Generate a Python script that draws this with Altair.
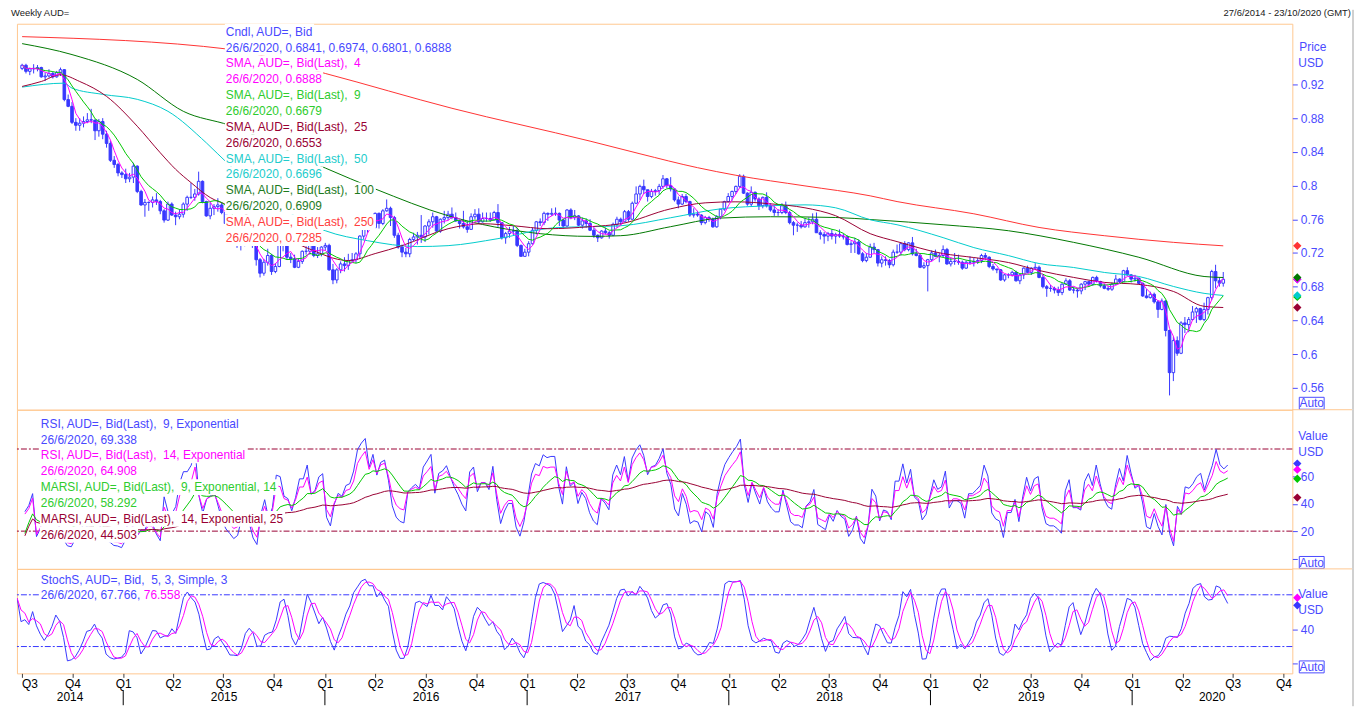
import altair as alt
import pandas as pd
import numpy as np

# ---------------- values ----------------
FIRST_WEEK = "2014-06-23"      # plotted position of the first weekly candle (27/6/2014)
first_open = 0.9390

close = [
    0.9427, 0.9355, 0.9385, 0.9390, 0.9400, 0.9290, 0.9300, 0.9330, 0.9290, 0.9340,
    0.9375, 0.9020, 0.8940, 0.8750, 0.8715, 0.8740, 0.8760, 0.8780, 0.8777, 0.8650,
    0.8760, 0.8610, 0.8500, 0.8300, 0.8250, 0.8150, 0.8130, 0.8080, 0.8100, 0.8230,
    0.7930, 0.7770, 0.7800, 0.7800, 0.7830, 0.7810, 0.7700, 0.7590, 0.7780, 0.7650,
    0.7630, 0.7660, 0.7780, 0.7860, 0.7860, 0.7900, 0.8050, 0.7810, 0.7640, 0.7730,
    0.7750, 0.7770, 0.7680, 0.7550, 0.7450, 0.7380, 0.7290, 0.7300, 0.7350, 0.7370,
    0.7300, 0.7120, 0.6960, 0.7090, 0.7170, 0.6980, 0.7040, 0.7300, 0.7290, 0.7150,
    0.7130, 0.7030, 0.7100, 0.7220, 0.7220, 0.7320, 0.7170, 0.7190, 0.7270, 0.7290,
    0.7000, 0.6880, 0.7000, 0.7070, 0.7050, 0.7110, 0.7120, 0.7190, 0.7400, 0.7520,
    0.7630, 0.7500, 0.7670, 0.7550, 0.7700, 0.7730, 0.7620, 0.7410, 0.7270, 0.7210,
    0.7190, 0.7360, 0.7390, 0.7410, 0.7390, 0.7520, 0.7570, 0.7630, 0.7460, 0.7600,
    0.7620, 0.7660, 0.7620, 0.7580, 0.7550, 0.7510, 0.7480, 0.7630, 0.7660, 0.7570,
    0.7610, 0.7610, 0.7590, 0.7680, 0.7560, 0.7380, 0.7430, 0.7460, 0.7460, 0.7290,
    0.7160, 0.7210, 0.7310, 0.7470, 0.7570, 0.7560, 0.7670, 0.7660, 0.7670, 0.7670,
    0.7590, 0.7520, 0.7710, 0.7620, 0.7640, 0.7530, 0.7580, 0.7550, 0.7470, 0.7410,
    0.7380, 0.7460, 0.7440, 0.7410, 0.7540, 0.7600, 0.7570, 0.7690, 0.7600, 0.7790,
    0.7900, 0.7990, 0.7950, 0.7870, 0.7930, 0.7940, 0.7990, 0.8080, 0.8000, 0.7960,
    0.7830, 0.7780, 0.7870, 0.7810, 0.7650, 0.7660, 0.7650, 0.7560, 0.7620, 0.7600,
    0.7510, 0.7630, 0.7720, 0.7810, 0.7870, 0.7930, 0.7990, 0.8110, 0.7910, 0.7780,
    0.7920, 0.7840, 0.7760, 0.7860, 0.7760, 0.7710, 0.7680, 0.7680, 0.7760, 0.7680,
    0.7560, 0.7530, 0.7530, 0.7510, 0.7560, 0.7570, 0.7600, 0.7440, 0.7420, 0.7400,
    0.7430, 0.7400, 0.7420, 0.7400, 0.7390, 0.7300, 0.7310, 0.7330, 0.7190, 0.7110,
    0.7150, 0.7270, 0.7240, 0.7080, 0.7120, 0.7110, 0.7060, 0.7210, 0.7210, 0.7310,
    0.7240, 0.7320, 0.7190, 0.7170, 0.7030, 0.7050, 0.7120, 0.7200, 0.7160, 0.7170,
    0.7240, 0.7070, 0.7100, 0.7100, 0.7090, 0.7020, 0.7090, 0.7090, 0.7100, 0.7110,
    0.7170, 0.7150, 0.7040, 0.7010, 0.7000, 0.6880, 0.6940, 0.6940, 0.6970, 0.6870,
    0.6940, 0.7020, 0.6970, 0.7020, 0.7030, 0.6910, 0.6800, 0.6780, 0.6780, 0.6760,
    0.6730, 0.6830, 0.6870, 0.6760, 0.6760, 0.6750, 0.6830, 0.6860, 0.6830, 0.6910,
    0.6860, 0.6810, 0.6780, 0.6770, 0.6830, 0.6890, 0.6860, 0.6990, 0.6940, 0.6890,
    0.6900, 0.6840, 0.6690, 0.6670, 0.6710, 0.6620, 0.6530, 0.6630, 0.6280, 0.5780,
    0.6160, 0.6010, 0.6370, 0.6350, 0.6410, 0.6500, 0.6540, 0.6410, 0.6530, 0.6670,
    0.6980, 0.6870, 0.6841, 0.6888,
]
high = [
    0.9445, 0.9445, 0.9400, 0.9440, 0.9430, 0.9410, 0.9340, 0.9380, 0.9350, 0.9360,
    0.9400, 0.9380, 0.9080, 0.8990, 0.8800, 0.8800, 0.8820, 0.8860, 0.8910, 0.8780,
    0.8790, 0.8800, 0.8650, 0.8530, 0.8350, 0.8270, 0.8170, 0.8200, 0.8150, 0.8270,
    0.8240, 0.7950, 0.7840, 0.7810, 0.7870, 0.7910, 0.7830, 0.7720, 0.7810, 0.7800,
    0.7690, 0.7720, 0.7800, 0.7880, 0.8030, 0.7960, 0.8165, 0.8060, 0.7820, 0.7800,
    0.7780, 0.7850, 0.7800, 0.7700, 0.7580, 0.7480, 0.7400, 0.7370, 0.7440, 0.7430,
    0.7380, 0.7320, 0.7140, 0.7130, 0.7250, 0.7190, 0.7080, 0.7310, 0.7380, 0.7300,
    0.7200, 0.7180, 0.7140, 0.7230, 0.7280, 0.7340, 0.7370, 0.7270, 0.7280, 0.7320,
    0.7310, 0.7070, 0.7020, 0.7100, 0.7150, 0.7190, 0.7200, 0.7210, 0.7410, 0.7530,
    0.7640, 0.7640, 0.7680, 0.7680, 0.7720, 0.7835, 0.7750, 0.7640, 0.7440, 0.7300,
    0.7260, 0.7380, 0.7440, 0.7450, 0.7650, 0.7530, 0.7600, 0.7680, 0.7640, 0.7610,
    0.7700, 0.7700, 0.7740, 0.7680, 0.7590, 0.7700, 0.7580, 0.7670, 0.7720, 0.7730,
    0.7680, 0.7680, 0.7680, 0.7700, 0.7780, 0.7560, 0.7450, 0.7510, 0.7520, 0.7500,
    0.7300, 0.7250, 0.7340, 0.7500, 0.7580, 0.7610, 0.7690, 0.7680, 0.7730, 0.7740,
    0.7680, 0.7610, 0.7720, 0.7730, 0.7710, 0.7650, 0.7620, 0.7610, 0.7600, 0.7500,
    0.7420, 0.7470, 0.7500, 0.7460, 0.7560, 0.7630, 0.7620, 0.7710, 0.7710, 0.7810,
    0.7990, 0.8010, 0.8070, 0.7950, 0.7960, 0.7960, 0.8020, 0.8125, 0.8090, 0.8100,
    0.7970, 0.7870, 0.7900, 0.7900, 0.7820, 0.7730, 0.7700, 0.7660, 0.7640, 0.7640,
    0.7620, 0.7650, 0.7720, 0.7820, 0.7910, 0.7940, 0.8000, 0.8135, 0.8130, 0.7920,
    0.7990, 0.7930, 0.7860, 0.7870, 0.7920, 0.7790, 0.7760, 0.7720, 0.7790, 0.7810,
    0.7700, 0.7580, 0.7560, 0.7580, 0.7610, 0.7620, 0.7670, 0.7680, 0.7470, 0.7450,
    0.7450, 0.7480, 0.7440, 0.7480, 0.7430, 0.7410, 0.7340, 0.7380, 0.7360, 0.7210,
    0.7200, 0.7310, 0.7320, 0.7240, 0.7160, 0.7160, 0.7130, 0.7240, 0.7300, 0.7320,
    0.7340, 0.7330, 0.7390, 0.7250, 0.7200, 0.7090, 0.7130, 0.7230, 0.7240, 0.7200,
    0.7290, 0.7260, 0.7140, 0.7200, 0.7180, 0.7110, 0.7110, 0.7160, 0.7140, 0.7140,
    0.7190, 0.7200, 0.7160, 0.7070, 0.7010, 0.7010, 0.6950, 0.6960, 0.6990, 0.6990,
    0.6950, 0.7030, 0.7050, 0.7030, 0.7080, 0.7050, 0.6950, 0.6820, 0.6820, 0.6800,
    0.6800, 0.6840, 0.6900, 0.6890, 0.6800, 0.6780, 0.6840, 0.6870, 0.6870, 0.6920,
    0.6930, 0.6870, 0.6830, 0.6810, 0.6850, 0.6940, 0.6900, 0.7000, 0.7030, 0.6950,
    0.6940, 0.6910, 0.6850, 0.6770, 0.6740, 0.6730, 0.6640, 0.6660, 0.6640, 0.6290,
    0.6210, 0.6210, 0.6390, 0.6440, 0.6440, 0.6570, 0.6560, 0.6550, 0.6610, 0.6680,
    0.7000, 0.7060, 0.6910, 0.6974,
]
low = [
    0.9370, 0.9330, 0.9310, 0.9330, 0.9355, 0.9280, 0.9240, 0.9280, 0.9270, 0.9280,
    0.9300, 0.9000, 0.8930, 0.8730, 0.8650, 0.8650, 0.8690, 0.8740, 0.8740, 0.8540,
    0.8580, 0.8550, 0.8450, 0.8280, 0.8210, 0.8110, 0.8090, 0.8030, 0.8040, 0.8030,
    0.7910, 0.7760, 0.7630, 0.7700, 0.7740, 0.7770, 0.7660, 0.7560, 0.7580, 0.7640,
    0.7530, 0.7600, 0.7620, 0.7700, 0.7840, 0.7820, 0.7880, 0.7790, 0.7630, 0.7600,
    0.7650, 0.7690, 0.7660, 0.7530, 0.7370, 0.7340, 0.7260, 0.7230, 0.7280, 0.7310,
    0.7260, 0.7050, 0.6910, 0.6930, 0.7050, 0.6940, 0.6960, 0.7030, 0.7220, 0.7120,
    0.7080, 0.7020, 0.7020, 0.7070, 0.7180, 0.7180, 0.7150, 0.7140, 0.7160, 0.7230,
    0.6990, 0.6830, 0.6840, 0.6960, 0.6980, 0.7000, 0.7080, 0.7080, 0.7130, 0.7360,
    0.7440, 0.7490, 0.7490, 0.7490, 0.7530, 0.7690, 0.7520, 0.7380, 0.7250, 0.7150,
    0.7150, 0.7150, 0.7340, 0.7300, 0.7320, 0.7330, 0.7420, 0.7500, 0.7450, 0.7440,
    0.7550, 0.7590, 0.7600, 0.7570, 0.7490, 0.7490, 0.7440, 0.7480, 0.7600, 0.7550,
    0.7560, 0.7570, 0.7570, 0.7590, 0.7510, 0.7360, 0.7310, 0.7380, 0.7410, 0.7270,
    0.7160, 0.7160, 0.7160, 0.7300, 0.7420, 0.7520, 0.7530, 0.7580, 0.7640, 0.7640,
    0.7520, 0.7490, 0.7510, 0.7600, 0.7590, 0.7520, 0.7490, 0.7500, 0.7460, 0.7380,
    0.7330, 0.7370, 0.7420, 0.7370, 0.7400, 0.7500, 0.7530, 0.7570, 0.7570, 0.7600,
    0.7780, 0.7830, 0.7900, 0.7810, 0.7850, 0.7880, 0.7890, 0.7960, 0.7970, 0.7930,
    0.7810, 0.7730, 0.7770, 0.7790, 0.7630, 0.7620, 0.7630, 0.7530, 0.7540, 0.7570,
    0.7500, 0.7500, 0.7600, 0.7700, 0.7800, 0.7820, 0.7900, 0.7970, 0.7900, 0.7760,
    0.7750, 0.7810, 0.7710, 0.7730, 0.7740, 0.7690, 0.7640, 0.7640, 0.7660, 0.7660,
    0.7540, 0.7410, 0.7450, 0.7490, 0.7500, 0.7500, 0.7540, 0.7440, 0.7360, 0.7310,
    0.7340, 0.7360, 0.7310, 0.7380, 0.7360, 0.7290, 0.7200, 0.7200, 0.7180, 0.7090,
    0.7090, 0.7140, 0.7200, 0.7040, 0.7030, 0.7050, 0.7020, 0.7040, 0.7190, 0.7170,
    0.7220, 0.7220, 0.7170, 0.7160, 0.7020, 0.7010, 0.6744, 0.7100, 0.7150, 0.7090,
    0.7150, 0.7060, 0.7040, 0.7060, 0.7060, 0.7000, 0.7010, 0.7060, 0.7040, 0.7070,
    0.7080, 0.7120, 0.7020, 0.6990, 0.6960, 0.6870, 0.6860, 0.6900, 0.6920, 0.6860,
    0.6830, 0.6890, 0.6960, 0.6940, 0.7000, 0.6900, 0.6780, 0.6680, 0.6740, 0.6720,
    0.6690, 0.6700, 0.6820, 0.6750, 0.6720, 0.6670, 0.6710, 0.6760, 0.6800, 0.6810,
    0.6850, 0.6790, 0.6770, 0.6750, 0.6750, 0.6820, 0.6840, 0.6860, 0.6930, 0.6850,
    0.6860, 0.6830, 0.6680, 0.6660, 0.6660, 0.6600, 0.6430, 0.6520, 0.6210, 0.5510,
    0.5680, 0.5980, 0.6000, 0.6250, 0.6260, 0.6400, 0.6370, 0.6400, 0.6390, 0.6470,
    0.6640, 0.6780, 0.6800, 0.6801,
]

# longer moving averages (week index, value)
sma25_wk = [0, 5, 10, 15, 22, 30, 36, 40, 44, 49, 54, 74, 85, 92, 99, 111, 120, 128, 137, 148,
            156, 169, 178, 186, 195, 204, 212, 221, 228, 240, 248, 257, 265, 274, 282, 291, 300, 308, 313]
sma25_val = [0.9176, 0.9235, 0.9315, 0.9235, 0.9058, 0.8704, 0.8389, 0.8193, 0.8035, 0.7858,
             0.7760, 0.7264, 0.7110, 0.7193, 0.7287, 0.7488, 0.7547, 0.7523, 0.7488, 0.7512,
             0.7547, 0.7724, 0.7795, 0.7807, 0.7783, 0.7736, 0.7642, 0.7429, 0.7335, 0.7193,
             0.7146, 0.7087, 0.6992, 0.6910, 0.6851, 0.6827, 0.6744, 0.6567, 0.6553]
sma50_wk = [0, 11, 13, 21, 30, 38, 48, 54, 79, 90, 103, 111, 124, 139, 156, 169, 182, 195, 204, 212,
            221, 228, 240, 248, 257, 265, 274, 282, 291, 300, 308, 313]
sma50_val = [0.9168, 0.9215, 0.9156, 0.9082, 0.9023, 0.8881, 0.8507, 0.8244, 0.7464, 0.7346,
             0.7276, 0.7287, 0.7370, 0.7500, 0.7523, 0.7618, 0.7724, 0.7760, 0.7771, 0.7736,
             0.7594, 0.7535, 0.7382, 0.7264, 0.7169, 0.7075, 0.7028, 0.6969, 0.6921, 0.6803,
             0.6721, 0.6696]
sma100_wk = [0, 13, 30, 42, 54, 79, 92, 111, 135, 148, 156, 169, 182, 195, 212, 222, 240, 257, 274, 291, 308, 313]
sma100_val = [0.9684, 0.9554, 0.9259, 0.8881, 0.8716, 0.8208, 0.7960, 0.7642, 0.7429, 0.7397, 0.7405,
              0.7512, 0.7614, 0.7630, 0.7621, 0.7594, 0.7535, 0.7464, 0.7326, 0.7149, 0.6921, 0.6909]
sma250_wk = [0, 54, 79, 112, 148, 161, 176, 186, 204, 221, 228, 248, 265, 282, 300, 313]
sma250_val = [0.9767, 0.9617, 0.9330, 0.8917, 0.8527, 0.8377, 0.8212, 0.8122, 0.7996, 0.7878,
              0.7810, 0.7665, 0.7503, 0.7405, 0.7326, 0.7285]

# legend values
last_date = "26/6/2020"
cndl_ohlc = ["0.6841", "0.6974", "0.6801", "0.6888"]
sma_periods = [4, 9, 25, 50, 100, 250]
sma_last = ["0.6888", "0.6679", "0.6553", "0.6696", "0.6909", "0.7285"]
rsi_last = ["69.338", "64.908", "58.292", "44.503"]
stoch_last = ["67.766", "76.558"]
price_ticks = [0.56, 0.6, 0.64, 0.68, 0.72, 0.76, 0.8, 0.84, 0.88, 0.92]
rsi_ticks = [0, 20, 40, 60]
stoch_ticks = [0, 40]
rsi_levels = [80, 20]
stoch_levels = [80, 20]

# ---------------- styles ----------------
FONT = "Liberation Sans"
CANDLE = "#3838FF"
TBLUE = "#4848FF"
AXB = "#4B4BFF"
MAG = "#FF00FF"
GREEN = "#00C800"
TGREEN = "#2ECC2E"
MAROON = "#990033"
CYAN = "#00CCCC"
TCYAN = "#22CCCC"
DKGREEN = "#007800"
TDKGREEN = "#1E7B1E"
RED = "#FF3333"
TRED = "#FF4040"
BORDER = "#FFC890"

W = 1282
H1, H2, H3 = 388, 160, 105
X0, X1 = -0.05, 329.7
xsc = alt.Scale(domain=[X0, X1], nice=False, zero=False)
ysc1 = alt.Scale(domain=[0.534, 0.992], nice=False, zero=False)
ysc2 = alt.Scale(domain=[-7.6, 108.7], nice=False, zero=False)
ysc3 = alt.Scale(domain=[-11.1, 110.0], nice=False, zero=False)
XN = alt.X("i:Q", scale=xsc, axis=None)


def XQ(field, axis=None, with_axis=False):
    if with_axis:
        return alt.X(field, scale=xsc, axis=axis, title=None)
    return alt.X(field, scale=xsc, title=None)


def YQ(field, ysc, axis=None):
    if axis is not None:
        return alt.Y(field, scale=ysc, axis=axis, title=None)
    return alt.Y(field, scale=ysc, title=None)


# ---------------- derived table ----------------
n = len(close)
df = pd.DataFrame({"i": np.arange(n), "close": close, "high": high, "low": low})
df["open"] = [first_open] + close[:-1]
s = df["close"]
df["sma4"] = s.rolling(4, min_periods=1).mean()
df["sma9"] = s.rolling(9, min_periods=1).mean()
d = s.diff()


def rsi(period):
    up = d.clip(lower=0)
    dn = (-d).clip(lower=0)
    au = up.ewm(span=period, adjust=True).mean()
    ad = dn.ewm(span=period, adjust=True).mean()
    return 100 * au / (au + ad)


df["rsi9"] = rsi(9)
df["rsi14"] = rsi(14)
df["marsi9"] = df["rsi9"].ewm(span=14, adjust=True).mean()
df["marsi14"] = df["rsi14"].ewm(alpha=1.0 / 25, adjust=True).mean()
ll = df["low"].rolling(5, min_periods=1).min()
hh = df["high"].rolling(5, min_periods=1).max()
raw = 100 * (s - ll) / (hh - ll)
df["stk"] = raw.rolling(3, min_periods=1).mean()
df["std"] = df["stk"].rolling(3, min_periods=1).mean()
dfi = df.iloc[2:].copy()

base = pd.Timestamp(FIRST_WEEK)


def wk(dd):
    return (pd.Timestamp(dd) - base).days / 7.0


q_dates = pd.date_range("2014-07-01", "2020-10-01", freq="QS")
q_pos = [round(wk(dd), 4) for dd in q_dates]
q_expr = "'Q' + quarter(time(datetime(2014, 5, 23)) + datum.value * 604800000 + 43200000)"
yr_sep = pd.DataFrame({"p": [wk(f"{y}-01-01") for y in range(2015, 2021)]})
yl = []
for y in range(2014, 2021):
    a = max(wk(f"{y}-01-01"), X0)
    b = min(wk(f"{y + 1}-01-01"), X1)
    yl.append({"p": (a + b) / 2, "y": str(y)})
yr_lab = pd.DataFrame(yl)

ONE = pd.DataFrame({"k": [0]})

# Arial advance widths (per 1000 em) to size the white boxes behind legend lines
_AW = {" ": 278, ",": 278, ".": 278, "/": 278, "(": 333, ")": 333, "=": 584, "-": 333,
       "A": 667, "B": 667, "C": 722, "D": 722, "E": 667, "I": 278, "L": 556, "M": 833, "R": 722,
       "S": 667, "U": 722, "G": 778, "T": 611, "V": 667, "W": 944,
       "a": 556, "c": 500, "d": 556, "e": 556, "h": 556, "i": 222, "l": 222, "m": 833, "n": 556,
       "o": 556, "p": 556, "r": 333, "s": 500, "t": 278, "x": 500, "u": 556, "k": 500, "y": 500,
       "\u00a0": 278}


def text_w(s_, size=12):
    return sum(_AW.get(ch, 556) for ch in s_) * size / 1000.0


def txt(s_, x, y, color, size=12, align="left", box=True):
    out = []
    if box:
        w = text_w(s_, size)
        out.append(alt.Chart(ONE).mark_rect(fill="white").encode(
            x=alt.value(x - 1), x2=alt.value(x + w + 1), y=alt.value(y - 8), y2=alt.value(y + 8)))
    out.append(alt.Chart(ONE).mark_text(text=s_, align=align, baseline="middle", font=FONT,
                                        fontSize=size, fill=color)
               .encode(x=alt.value(x), y=alt.value(y)))
    return out


def line(data, field, color, ysc, interp="linear"):
    return alt.Chart(data).mark_line(color=color, strokeWidth=1, clip=True, interpolate=interp).encode(
        x=XN, y=YQ(field + ":Q", ysc))


def line_q(data, field, color, ysc, xaxis=None):
    return alt.Chart(data).mark_line(color=color, strokeWidth=1, clip=True).encode(
        x=XQ("i:Q", xaxis, with_axis=xaxis is not None), y=YQ(field + ":Q", ysc))


def sparse(wks, vals, color):
    return line(pd.DataFrame({"i": wks, "v": vals}), "v", color, ysc1, "monotone")


def diamonds(vals, colors, ysc):
    dd = pd.DataFrame({"v": [float(v) for v in vals], "c": colors})
    return alt.Chart(dd).mark_point(shape="diamond", filled=True, size=70, opacity=1).encode(
        x=alt.value(W + 5), y=YQ("v:Q", ysc), color=alt.Color("c:N", scale=None))


def auto_box(h):
    return [
        alt.Chart(ONE).mark_rect(fill="white", stroke=AXB, strokeWidth=1).encode(
            x=alt.value(W + 7), x2=alt.value(W + 32), y=alt.value(h - 12.5), y2=alt.value(h - 0.5)),
        alt.Chart(ONE).mark_text(text="Auto", align="center", baseline="middle", font=FONT,
                                 fontSize=12, fill=AXB).encode(x=alt.value(W + 19.5), y=alt.value(h - 6.3)),
    ]


def frame(h, y0=0, extra=0):
    return [alt.Chart(ONE).mark_rule(color="#A0A0A0", strokeWidth=1).encode(
        x=alt.value(W + 61), y=alt.value(y0), y2=alt.value(h + extra))]


def sep(h):
    return alt.Chart(ONE).mark_rule(color=BORDER, strokeWidth=1).encode(
        x=alt.value(W), x2=alt.value(W + 60), y=alt.value(h))


def yaxis(values, expr=None, fmt=None):
    kw = dict(orient="right", values=values, title=None, domain=False, grid=False,
              tickColor=AXB, tickSize=5, labelColor=AXB, labelFont=FONT, labelFontSize=12,
              labelPadding=3)
    if expr:
        kw["labelExpr"] = expr
    if fmt:
        kw["format"] = fmt
    return alt.Axis(**kw)


# ---------------- price panel ----------------
wick = alt.Chart(df).mark_rule(color=CANDLE, strokeWidth=1, clip=True).encode(
    x=XN, y=YQ("low:Q", ysc1, yaxis(price_ticks, fmt="~g")), y2="high:Q")
body = alt.Chart(df).mark_bar(size=2.6, stroke=CANDLE, strokeWidth=1, clip=True).encode(
    x=XN, y=YQ("open:Q", ysc1), y2="close:Q",
    fill=alt.condition("datum.close < datum.open", alt.value(CANDLE), alt.value("white")))

p_layers = [wick, body,
            sparse(sma250_wk, sma250_val, RED),
            sparse(sma100_wk, sma100_val, DKGREEN),
            sparse(sma50_wk, sma50_val, CYAN),
            sparse(sma25_wk, sma25_val, MAROON),
            line(df, "sma9", GREEN, ysc1),
            line(df, "sma4", MAG, ysc1)]

sma_txt_cols = [MAG, TGREEN, MAROON, TCYAN, TDKGREEN, TRED]
p_lines = [("Cndl, AUD=, Bid", TBLUE),
           (f"{last_date}, " + ", ".join(cndl_ohlc), TBLUE)]
for per, val, col in zip(sma_periods, sma_last, sma_txt_cols):
    p_lines.append((f"SMA, AUD=, Bid(Last),\u00a0 {per}", col))
    p_lines.append((f"{last_date}, {val}", col))
for k, (t, c) in enumerate(p_lines):
    p_layers += txt(t, 210, 8 + 15.95 * k, c)

p_layers += txt("Weekly AUD=", -6, -10.5, "#202020", size=9.5, box=False)
p_layers += txt("27/6/2014 - 23/10/2020 (GMT)", W + 59, -10.5, "#202020", size=9.5, align="right", box=False)
p_layers += txt("Price", W + 7, 23, AXB, box=False)
p_layers += txt("USD", W + 6, 39, AXB, box=False)
p_layers += auto_box(H1)
p_layers.append(diamonds([cndl_ohlc[3]] + sma_last,
                         [CANDLE, MAG, GREEN, MAROON, CYAN, DKGREEN, RED], ysc1))
p_layers.append(sep(H1))
p_layers += frame(H1, y0=-14)
price = alt.layer(*p_layers).properties(width=W, height=H1)

# ---------------- RSI panel ----------------
lev2 = alt.Chart(pd.DataFrame({"v": rsi_levels})).mark_rule(
    color=MAROON, strokeWidth=1, strokeDash=[6, 2, 2, 2]).encode(
    y=YQ("v:Q", ysc2, yaxis(rsi_ticks, expr="datum.value == 0 ? '' : datum.label")))
r_layers = [lev2,
            line(dfi, "rsi9", CANDLE, ysc2),
            line(dfi, "rsi14", MAG, ysc2),
            line(dfi, "marsi9", GREEN, ysc2),
            line(dfi, "marsi14", MAROON, ysc2)]
r_lines = [("RSI, AUD=, Bid(Last),\u00a0 9, Exponential", TBLUE),
           (f"{last_date}, {rsi_last[0]}", TBLUE),
           ("RSI, AUD=, Bid(Last),\u00a0 14, Exponential", MAG),
           (f"{last_date}, {rsi_last[1]}", MAG),
           ("MARSI, AUD=, Bid(Last),\u00a0 9, Exponential, 14", TGREEN),
           (f"{last_date}, {rsi_last[2]}", TGREEN),
           ("MARSI, AUD=, Bid(Last),\u00a0 14, Exponential, 25", MAROON),
           (f"{last_date}, {rsi_last[3]}", MAROON)]
for k, (t, c) in enumerate(r_lines):
    r_layers += txt(t, 24, 14 + 15.95 * k, c)
r_layers += txt("Value", W + 6, 26.7, AXB, box=False)
r_layers += txt("USD", W + 6, 42.7, AXB, box=False)
r_layers += auto_box(H2)
r_layers.append(diamonds(rsi_last, [CANDLE, MAG, GREEN, MAROON], ysc2))
r_layers.append(sep(H2))
r_layers += frame(H2)
rsi_panel = alt.layer(*r_layers).properties(width=W, height=H2)

# ---------------- Stochastic panel ----------------
ax_x = alt.Axis(values=q_pos, labelExpr=q_expr, title=None, domain=False, grid=False,
                tickColor="#404040", tickSize=4, labelColor="#000000", labelFont=FONT,
                labelFontSize=12, labelPadding=1, labelFlush=6)
lev3 = alt.Chart(pd.DataFrame({"v": stoch_levels})).mark_rule(
    color=CANDLE, strokeWidth=1, strokeDash=[6, 2, 2, 2]).encode(
    y=YQ("v:Q", ysc3, yaxis(stoch_ticks, expr="datum.value == 0 ? '' : datum.label")))
s_layers = [lev3,
            line_q(df, "stk", CANDLE, ysc3, xaxis=ax_x),
            line_q(df, "std", MAG, ysc3)]
s_layers += txt("StochS, AUD=, Bid,\u00a0 5, 3, Simple, 3", 24, 10.7, TBLUE)
s_layers += txt(f"{last_date}, {stoch_last[0]}, ", 24, 26.7, TBLUE)
s_layers += txt(stoch_last[1], 127.5, 26.7, MAG)
s_layers += txt("Value", W + 6, 25, AXB)
s_layers += txt("USD", W + 6, 41, AXB)
s_layers += auto_box(H3)
s_layers.append(diamonds([stoch_last[1], stoch_last[0]], [MAG, CANDLE], ysc3))
s_layers.append(alt.Chart(yr_sep).mark_rule(color="#000000", strokeWidth=1).encode(
    x=XQ("p:Q"), y=alt.value(H3 + 17), y2=alt.value(H3 + 32)))
s_layers.append(alt.Chart(yr_lab).mark_text(baseline="middle", align="center", font=FONT, fontSize=12,
                                            fill="#000000").encode(
    x=XQ("p:Q"), y=alt.value(H3 + 24), text="y:N"))
s_layers += frame(H3, extra=33)
stoch_panel = alt.layer(*s_layers).properties(width=W, height=H3)

chart = alt.vconcat(price, rsi_panel, stoch_panel, spacing=0, bounds="flush").properties(
    padding={"left": 2, "top": -2, "right": 0, "bottom": 0}
).configure_view(stroke=BORDER, strokeWidth=1)

chart.save("out.html", embed_options={"renderer": "svg", "actions": False})
